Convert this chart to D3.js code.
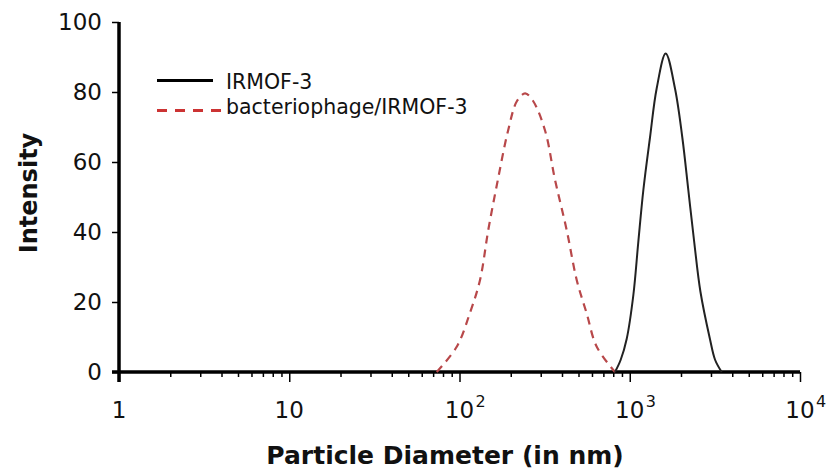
<!DOCTYPE html>
<html>
<head>
<meta charset="utf-8">
<script src="https://cdn.jsdelivr.net/npm/d3@7"></script>
<style>
  body { margin: 0; background: #fff; }
  svg { display: block; font-family: "DejaVu Sans", Verdana, sans-serif; }
</style>
</head>
<body>
<svg id="chart" width="839" height="473"></svg>
<script>
// 粒径数据 (nm) 与强度
const irmofD = [819, 885, 960, 1050, 1122, 1202, 1315, 1439, 1626, 1844, 2036, 2208, 2393, 2600, 2956, 3170, 3467];
const irmofI = [0, 3.5, 9.5, 22, 37, 52, 67, 81, 91, 81, 67, 52, 37, 23, 9.5, 3.5, 0];

const phageD = [73.5, 96.3, 115, 132, 147.6, 168, 193, 218, 243, 270, 318, 364, 426, 488, 558, 640, 819];
const phageI = [0, 7.2, 16.8, 26.3, 40.6, 54.9, 69, 77.5, 79.6, 77.5, 69, 54.9, 40.6, 26.3, 16.8, 7.2, 0];

const yTicks = [0, 20, 40, 60, 80, 100];
const xMajor = [1, 10, 100, 1000, 10000];
const xLabels = [['1', ''], ['10', ''], ['10', '2'], ['10', '3'], ['10', '4']];
const legendNames = ['IRMOF-3', 'bacteriophage/IRMOF-3'];

const svg = d3.select('#chart');

const x = d3.scaleLog().domain([1, 10000]).range([119, 800]);
const y = d3.scaleLinear().domain([0, 100]).range([372, 22]);

// 次刻度 2..9
const xMinor = [];
xMajor.slice(0, -1).forEach(d => {
  for (let k = 2; k <= 9; k++) xMinor.push(d * k);
});

// x 轴
const gx = svg.append('g').attr('transform', `translate(0,${y(0)})`);
gx.call(d3.axisBottom(x).tickValues(xMinor).tickSize(5).tickFormat(''));
gx.call(g => g.select('.domain').remove());
const gxMajor = svg.append('g').attr('transform', `translate(0,${y(0)})`);
gxMajor.call(d3.axisBottom(x).tickValues(xMajor).tickSize(10).tickFormat(''));
gxMajor.select('.domain').remove();
svg.selectAll('.tick line').attr('stroke', '#000').attr('stroke-width', 1.5);

svg.append('line')
  .attr('x1', 112).attr('x2', x(10000))
  .attr('y1', y(0)).attr('y2', y(0))
  .attr('stroke', '#000').attr('stroke-width', 3.5);

// x 刻度标签
const xl = svg.append('g');
xMajor.forEach((d, i) => {
  const [base, sup] = xLabels[i];
  xl.append('text')
    .attr('x', x(d)).attr('y', 418)
    .attr('text-anchor', 'middle')
    .attr('font-size', 23)
    .attr('fill', '#111')
    .text(base);
  if (sup) {
    xl.append('text')
      .attr('x', x(d) + 16).attr('y', 407)
      .attr('font-size', 16)
      .attr('fill', '#111')
      .text(sup);
  }
});

// y 轴
const gy = svg.append('g').attr('transform', `translate(${x(1)},0)`);
gy.call(d3.axisLeft(y).tickValues(yTicks).tickSize(7).tickPadding(10));
gy.select('.domain').remove();
gy.selectAll('.tick line').attr('stroke', '#000').attr('stroke-width', 1.5);
gy.selectAll('.tick text')
  .attr('font-size', 23)
  .attr('fill', '#111')
  .attr('font-family', '"DejaVu Sans", Verdana, sans-serif');

svg.append('line')
  .attr('x1', x(1)).attr('x2', x(1))
  .attr('y1', y(100)).attr('y2', y(0) + 10)
  .attr('stroke', '#000').attr('stroke-width', 3.5);

// 轴标题
svg.append('text')
  .attr('x', 445).attr('y', 464)
  .attr('text-anchor', 'middle')
  .attr('font-size', 25).attr('font-weight', 'bold')
  .attr('fill', '#111')
  .text('Particle Diameter (in nm)');

svg.append('text')
  .attr('transform', 'translate(37,193) rotate(-90)')
  .attr('text-anchor', 'middle')
  .attr('font-size', 24).attr('font-weight', 'bold')
  .attr('fill', '#111')
  .text('Intensity');

// 曲线
const line = d3.line()
  .x(d => x(d[0]))
  .y(d => Math.min(y(0), y(d[1])))
  .curve(d3.curveCatmullRom.alpha(0.5));

svg.append('path')
  .datum(phageD.map((d, i) => [d, phageI[i]]))
  .attr('d', line)
  .attr('fill', 'none')
  .attr('stroke', '#b8484a')
  .attr('stroke-width', 2.2)
  .attr('stroke-dasharray', '8,6');

svg.append('path')
  .datum(irmofD.map((d, i) => [d, irmofI[i]]))
  .attr('d', line)
  .attr('fill', 'none')
  .attr('stroke', '#222')
  .attr('stroke-width', 2);

// 图例
const legend = svg.append('g');
legend.append('line')
  .attr('x1', 157).attr('x2', 213).attr('y1', 80.5).attr('y2', 80.5)
  .attr('stroke', '#000').attr('stroke-width', 3);
legend.append('line')
  .attr('x1', 157).attr('x2', 222).attr('y1', 110.5).attr('y2', 110.5)
  .attr('stroke', '#cc3333').attr('stroke-width', 3)
  .attr('stroke-dasharray', '10,8');
legend.selectAll('text.lg')
  .data(legendNames)
  .enter().append('text')
  .attr('class', 'lg')
  .attr('x', 226)
  .attr('y', (d, i) => 89 + i * 25)
  .attr('font-size', 20.5)
  .attr('fill', '#111')
  .text(d => d);
</script>
</body>
</html>
